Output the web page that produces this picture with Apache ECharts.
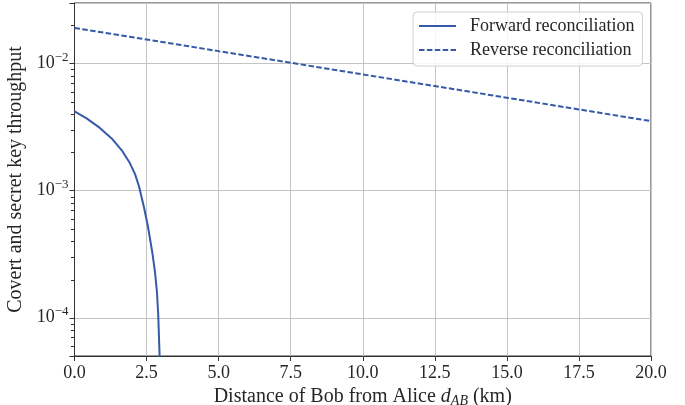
<!DOCTYPE html>
<html>
<head>
<meta charset="utf-8">
<script src="https://cdn.jsdelivr.net/npm/echarts@6/dist/echarts.min.js"></script>
<style>
html,body{margin:0;padding:0;background:#fff;}
#chart{width:685px;height:405px;}
</style>
</head>
<body>
<div id="chart"></div>
<script>
// ---- data ----
const forwardX = [0, 0.42, 0.88, 1.29, 1.64, 1.92, 2.10, 2.24, 2.41, 2.55, 2.70, 2.79, 2.86, 2.905, 2.95, 2.97];
const forwardY = [4.2e-3, 3.71e-3, 3.12e-3, 2.58e-3, 2.08e-3, 1.65e-3, 1.35e-3, 1.08e-3, 7.4e-4, 5.2e-4, 3.25e-4, 2.32e-4, 1.6e-4, 1.05e-4, 5.2e-5, 3.0e-5];
const reverseX = [0, 2.5, 5, 7.5, 10, 12.5, 15, 17.5, 20];
const reverseY = [0.0191, 0.0155, 0.01254, 0.01016, 0.00822, 0.00666, 0.00539, 0.00436, 0.00353];
const yMin = 5e-5, yMax = 0.03;
const yMinorTicks = [6e-5, 7e-5, 8e-5, 9e-5,
  2e-4, 3e-4, 4e-4, 5e-4, 6e-4, 7e-4, 8e-4, 9e-4,
  2e-3, 3e-3, 4e-3, 5e-3, 6e-3, 7e-3, 8e-3, 9e-3,
  2e-2];
const seriesNames = ['Forward reconciliation', 'Reverse reconciliation'];
const xName = 'Distance of Bob from Alice';
const yName = 'Covert and secret key throughput';

const FONT = 'Liberation Serif';
const TXT = '#262626';
const BLUE = '#3659a8';

function zip(xs, ys) { return xs.map((x, i) => [x, ys[i]]); }

const chart = echarts.init(document.getElementById('chart'), null, {renderer: 'canvas'});
chart.setOption({
  animation: false,
  backgroundColor: '#fff',
  grid: {left: 74.5, right: 34, top: 3, bottom: 49, show: true, borderColor: '#333', borderWidth: 1,
         backgroundColor: 'transparent', containLabel: false, outerBoundsMode: 'none'},
  legend: {
    orient: 'vertical', left: 413, top: 12,
    padding: [5, 8, 7, 5],
    itemWidth: 37, itemHeight: 14, itemGap: 6,
    backgroundColor: 'rgba(255,255,255,0.85)',
    borderColor: '#d0d0d0', borderWidth: 1, borderRadius: 4,
    itemStyle: {opacity: 0},
    textStyle: {fontFamily: FONT, fontSize: 18, color: TXT, padding: [0, 0, 0, 9]},
    data: seriesNames
  },
  xAxis: {
    type: 'value', min: 0, max: 20, interval: 2.5,
    name: '{n|' + xName + ' }{i|d}{s|AB}{n| (km)}',
    nameLocation: 'middle', nameGap: 24,
    nameTextStyle: {
      rich: {
        n: {fontFamily: FONT, fontSize: 20, color: TXT},
        i: {fontFamily: FONT, fontSize: 20, color: TXT, fontStyle: 'italic'},
        s: {fontFamily: FONT, fontSize: 14, color: TXT, fontStyle: 'italic', padding: [9, 0, 0, 0]}
      }
    },
    axisLine: {show: true, lineStyle: {color: '#333', width: 1}},
    axisTick: {show: true, inside: false, length: 5, lineStyle: {color: '#333', width: 1}},
    axisLabel: {fontFamily: FONT, fontSize: 18, color: TXT, margin: 8, formatter: v => v.toFixed(1)},
    splitLine: {show: true, lineStyle: {color: '#c4c4c4', width: 1}}
  },
  yAxis: {
    type: 'log', logBase: 10, min: yMin, max: yMax,
    name: yName, nameLocation: 'middle', nameGap: 43,
    nameTextStyle: {fontFamily: FONT, fontSize: 20, color: TXT},
    axisLine: {show: true, onZero: false, lineStyle: {color: '#333', width: 1}},
    axisTick: {show: true, length: 5, lineStyle: {color: '#333', width: 1}},
    axisLabel: {
      margin: 6,
      formatter: function (v) {
        const e = Math.log10(v);
        if (Math.abs(e - Math.round(e)) > 1e-6) return '';
        return '{b|10}{s|\u2212' + (-Math.round(e)) + '}';
      },
      rich: {
        b: {fontFamily: FONT, fontSize: 18, color: TXT},
        s: {fontFamily: FONT, fontSize: 13, color: TXT, padding: [0, 0, 12, 0]}
      }
    },
    splitLine: {show: true, lineStyle: {color: '#c4c4c4', width: 1}}
  },
  series: [{
    name: seriesNames[0], type: 'line', data: zip(forwardX, forwardY),
    showSymbol: false, symbol: 'none', smooth: false, clip: true,
    lineStyle: {color: BLUE, width: 2, type: 'solid'}, itemStyle: {color: BLUE}
  }, {
    name: seriesNames[1], type: 'line', data: zip(reverseX, reverseY),
    showSymbol: false, symbol: 'none', clip: true,
    lineStyle: {color: BLUE, width: 2, type: [5.5, 2.4]}, itemStyle: {color: BLUE}
  }, {
    // minor ticks of the log y axis, placed through the axis scale
    name: 'minorTicks', type: 'custom', coordinateSystem: 'cartesian2d', silent: true, clip: false, z: 5,
    data: yMinorTicks.map(v => [0, v]),
    encode: {x: 0, y: 1},
    renderItem: function (params, api) {
      const p = api.coord([api.value(0), api.value(1)]);
      const y = Math.round(p[1]) + 0.5;
      return {type: 'line', shape: {x1: p[0] - 3.5, y1: y, x2: p[0], y2: y},
              style: {stroke: '#333', lineWidth: 1}};
    }
  }]
});
</script>
</body>
</html>
